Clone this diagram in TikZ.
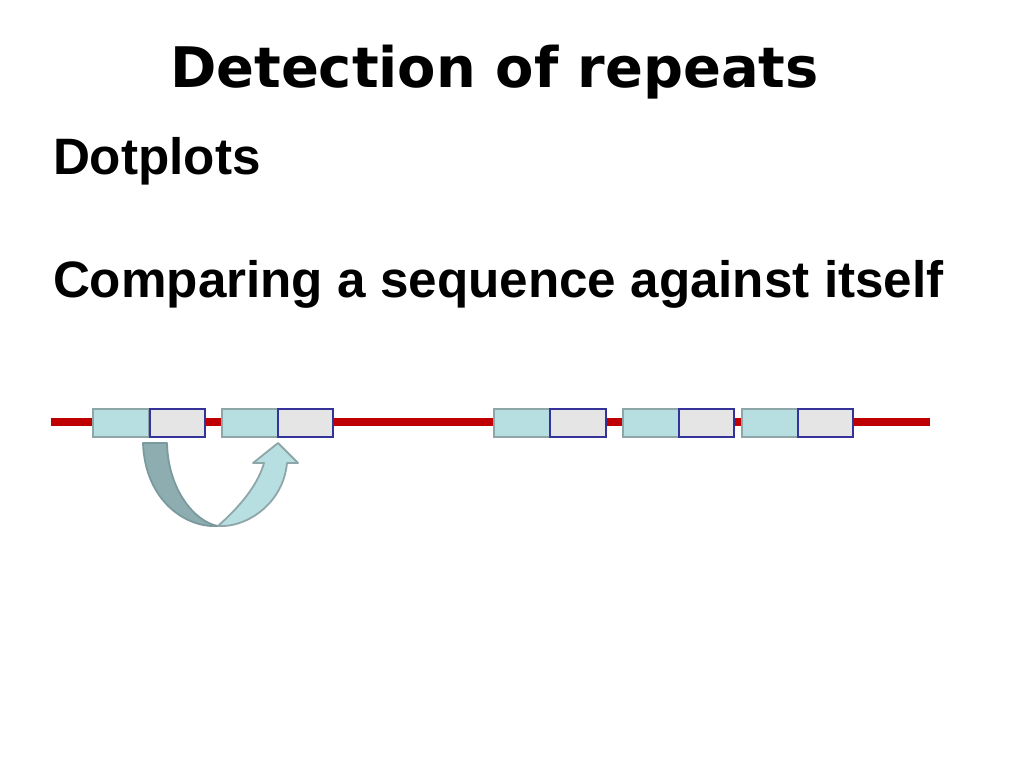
\documentclass[tikz,border=0pt]{standalone}
\usepackage{fontspec}
\setmainfont{Liberation Sans}
\newfontfamily\titlefont{DejaVu Sans}
\definecolor{seqred}{HTML}{C00000}
\definecolor{lightteal}{HTML}{B7DEE1}
\definecolor{tealborder}{HTML}{8FA6A8}
\definecolor{boxgray}{HTML}{E5E5E5}
\definecolor{boxblue}{HTML}{333399}
\definecolor{darkteal}{HTML}{8DADB0}
\definecolor{darktealborder}{HTML}{7A9A9E}
\tikzset{
  bluebox/.style={draw=tealborder, fill=lightteal, line width=2pt, minimum width=56pt, minimum height=28pt, inner sep=0pt, outer sep=0pt},
  graybox/.style={draw=boxblue, fill=boxgray, line width=2.3pt, minimum width=55.5pt, minimum height=28pt, inner sep=0pt, outer sep=0pt},
  seqline/.style={draw=seqred, line width=7.5pt},
  txt/.style={anchor=base west, inner sep=0pt, outer sep=0pt},
  arrowback/.style={fill=darkteal, draw=darktealborder, line width=1.8pt, line join=round},
  arrowfront/.style={fill=lightteal, draw=tealborder, line width=1.8pt, line join=round}
}
\begin{document}
\begin{tikzpicture}[x=1pt,y=-1pt]
\fill[white] (0,0) rectangle (1024,768);
\useasboundingbox (0,0) rectangle (1024,768);

\node[txt] (title) at (170,87.3) {\titlefont\bfseries\fontsize{55.9}{66}\selectfont Detection of repeats};
\node[txt] (dot) at (53,174) {\bfseries\fontsize{51.2}{60}\selectfont Dotplots};
\node[txt] (cmp) at (53,297) {\bfseries\fontsize{51.2}{60}\selectfont Comparing a sequence against itself};

\coordinate (ls) at (51,422);
\coordinate (le) at (930,422);
\draw[seqline] (ls) -- (le);

\node[bluebox] (b1) at (121,423) {};
\node[bluebox] (b2) at (249.5,423) {};
\node[bluebox] (b3) at (522,423) {};
\node[bluebox] (b4) at (650.5,423) {};
\node[bluebox] (b5) at (769.5,423) {};
\node[graybox] (g1) at (177.5,423) {};
\node[graybox] (g2) at (305.5,423) {};
\node[graybox] (g3) at (578,423) {};
\node[graybox] (g4) at (706.5,423) {};
\node[graybox] (g5) at (825.5,423) {};

% curved arrow (back face)
\draw[arrowback] (143,443) -- (167,443) .. controls (168,490) and (195,522) .. (218,526)
  .. controls (185,528) and (145,500) .. (143,443) -- cycle;
% curved arrow (front face with head)
\draw[arrowfront] (218,526) .. controls (245,528) and (283,505) .. (287,463)
  -- (298,463) -- (278,443) -- (253,463) -- (264,463)
  .. controls (255,495) and (222,522) .. (218,526) -- cycle;
\end{tikzpicture}
\end{document}
